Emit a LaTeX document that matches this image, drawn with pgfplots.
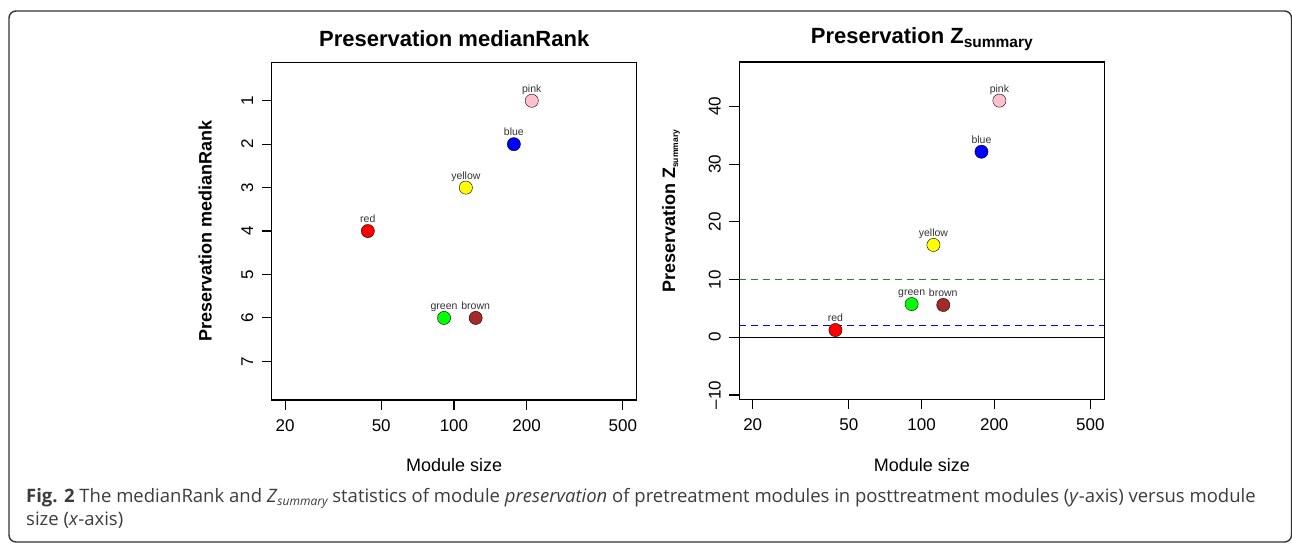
\documentclass[border=0pt]{standalone}
\usepackage{fontspec}
\setmainfont{Liberation Sans}
\newfontfamily\capfont{Open Sans}
\usepackage{pgfplots}
\pgfplotsset{compat=1.18}
\definecolor{rpink}{RGB}{255,192,203}
\definecolor{rblue}{RGB}{0,0,255}
\definecolor{ryellow}{RGB}{255,255,0}
\definecolor{rred}{RGB}{255,0,0}
\definecolor{rgreen}{RGB}{0,255,0}
\definecolor{rbrown}{RGB}{165,42,42}
\definecolor{lgreen}{RGB}{40,130,40}
\definecolor{captxt}{RGB}{60,60,60}
\pgfplotsset{
  mycommon/.style={
    scale only axis, width=365pt, height=337.3pt, anchor=south west,
    xmin=17.6, xmax=571,
    xtick={20,50,100,200,500}, xticklabels={20,50,100,200,500},
    xminorticks=false, yminorticks=false,
    axis line style={line width=1.1pt, draw=black},
    xtick style={draw=black, line width=1.1pt},
    ytick style={draw=black, line width=1.1pt},
    major tick length=-10pt,
    xtick pos=left, ytick pos=left,
    xticklabel shift=16pt, yticklabel shift=15pt,
    ticklabel style={font=\fontsize{17}{17}\selectfont},
    yticklabel style={rotate=90, anchor=south},
    clip=true,
  },
  mypt/.style={only marks, mark=*, mark size=6.6pt, mark options={draw=black, line width=0.9pt}},
}
\tikzset{mylab/.style={anchor=base, yshift=8.5pt, font=\fontsize{10.5}{10.5}\selectfont, text=black!80, inner sep=0pt}}
\begin{document}
\begin{tikzpicture}
\useasboundingbox (0pt,0pt) rectangle (1292pt,544pt);
\draw[rounded corners=7pt, line width=1.4pt, black!80] (9pt,2pt) rectangle (1291.5pt,533pt);

% left panel
\begin{axis}[xmode=log, mycommon, at={(271.7pt,144pt)}, ymin=0.124, ymax=7.89, y dir=reverse, ytick={1,2,3,4,5,6,7}, yticklabels={1,2,3,4,5,6,7}]
\addplot[mypt, mark options={fill=rpink}] coordinates {(210,1)};
\addplot[mypt, mark options={fill=rblue}] coordinates {(177,2)};
\addplot[mypt, mark options={fill=ryellow}] coordinates {(112,3)};
\addplot[mypt, mark options={fill=rred}] coordinates {(44,4)};
\addplot[mypt, mark options={fill=rgreen}] coordinates {(91,6)};
\addplot[mypt, mark options={fill=rbrown}] coordinates {(123,6)};
\node[mylab] at (axis cs:210,1) {pink};
\node[mylab] at (axis cs:177,2) {blue};
\node[mylab] at (axis cs:112,3) {yellow};
\node[mylab] at (axis cs:44,4) {red};
\node[mylab] at (axis cs:91,6) {green};
\node[mylab] at (axis cs:123,6) {brown};
\end{axis}

% right panel
\begin{axis}[xmode=log, mycommon, at={(739.3pt,144.7pt)}, ymin=-10.75, ymax=47.7, ytick={-10,0,10,20,30,40}, yticklabels={--10,0,10,20,30,40}]
\addplot[color=black, line width=1.1pt] coordinates {(17.6,0) (571,0)};
\addplot[draw=lgreen, line width=1.3pt, dash pattern=on 7pt off 5pt, draw opacity=0.99] coordinates {(17.6,10) (571,10)};
\addplot[draw=rblue, line width=1.3pt, dash pattern=on 7pt off 5pt, draw opacity=0.99] coordinates {(17.6,2) (571,2)};
\addplot[mypt, mark options={fill=rpink}] coordinates {(210,41.0)};
\addplot[mypt, mark options={fill=rblue}] coordinates {(177,32.15)};
\addplot[mypt, mark options={fill=ryellow}] coordinates {(112,16.0)};
\addplot[mypt, mark options={fill=rred}] coordinates {(44,1.25)};
\addplot[mypt, mark options={fill=rgreen}] coordinates {(91,5.75)};
\addplot[mypt, mark options={fill=rbrown}] coordinates {(123,5.6)};
\node[mylab] at (axis cs:210,41.0) {pink};
\node[mylab] at (axis cs:177,32.15) {blue};
\node[mylab] at (axis cs:112,16.0) {yellow};
\node[mylab] at (axis cs:44,1.25) {red};
\node[mylab] at (axis cs:91,5.75) {green};
\node[mylab] at (axis cs:123,5.6) {brown};
\end{axis}

% titles
\node[anchor=base, inner sep=0pt, font=\bfseries\fontsize{22}{22}\selectfont] at (454.2pt,497.3pt) {Preservation medianRank};
\node[anchor=base, inner sep=0pt, font=\bfseries\fontsize{22}{22}\selectfont] at (921.8pt,500pt) {Preservation Z\raisebox{-4pt}{\fontsize{15.5}{15.5}\selectfont summary}};

% y labels
\node[rotate=90, anchor=base, inner sep=0pt, font=\bfseries\fontsize{18}{18}\selectfont] at (211.7pt,313.2pt) {Preservation medianRank};
\node[rotate=90, anchor=base west, inner sep=0pt, font=\bfseries\fontsize{18}{18}\selectfont] at (675pt,251pt) {Preservation Z\raisebox{-3pt}{\fontsize{8.5}{8.5}\selectfont summary}};

% x labels
\node[anchor=base, inner sep=0pt, font=\fontsize{18}{18}\selectfont] at (454.2pt,72.3pt) {Module size};
\node[anchor=base, inner sep=0pt, font=\fontsize{18}{18}\selectfont] at (921.8pt,72.3pt) {Module size};

% caption
\node[anchor=base west, inner sep=0pt, text=captxt, font=\capfont\fontsize{18.5}{18.5}\selectfont] at (26pt,42pt) {\textbf{Fig. 2} The medianRank and \textit{Z}\raisebox{-3pt}{\fontsize{12}{12}\selectfont\itshape summary} statistics of module \textit{preservation} of pretreatment modules in posttreatment modules (\textit{y}-axis) versus module};
\node[anchor=base west, inner sep=0pt, text=captxt, font=\capfont\fontsize{18.5}{18.5}\selectfont] at (26pt,19pt) {size (\textit{x}-axis)};
\end{tikzpicture}
\end{document}
